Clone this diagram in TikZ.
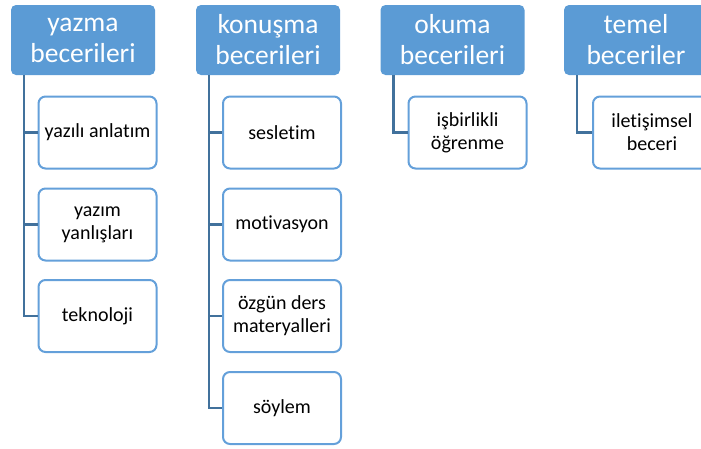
\documentclass[tikz,border=0pt]{standalone}
\usepackage{fontspec}
\setmainfont{Carlito}[Ligatures={NoCommon,NoContextual}]
\definecolor{hdrblue}{RGB}{91,155,213}
\definecolor{boxblue}{RGB}{100,160,218}
\definecolor{lineblue}{RGB}{65,113,156}
\tikzset{
  hdr/.style={rectangle, rounded corners=5pt, fill=hdrblue, draw=none, text=white,
    minimum width=144pt, minimum height=70pt, inner sep=0pt, align=center,
    font=\fontsize{27.5}{31}\selectfont},
  item/.style={rectangle, rounded corners=7pt, fill=white, draw=boxblue, line width=2pt,
    minimum width=118pt, minimum height=72pt, inner sep=0pt, align=center,
    font=\fontsize{20}{23}\selectfont},
  conn/.style={draw=lineblue, line width=2.6pt}
}
\begin{document}
\begin{tikzpicture}[x=1pt,y=-1pt]
\useasboundingbox (0,0) rectangle (701,448);
\clip (0,0) rectangle (701,448);
% headers
\node[hdr] (h1) at (83,40) {yazma\\becerileri};
\node[hdr] (h2) at (268,40) {konuşma\\becerileri};
\node[hdr] (h3) at (452.5,40) {okuma\\becerileri};
\node[hdr] (h4) at (636,40) {temel\\beceriler};
% anchor points for trunks
\coordinate (t1) at ([xshift=13pt]h1.south west);
\coordinate (t2) at ([xshift=13pt]h2.south west);
\coordinate (t3) at ([xshift=13pt]h3.south west);
\coordinate (t4) at ([xshift=13pt]h4.south west);
% children
\node[item] (a1) at (97.5,132.5) {yazılı anlatım};
\node[item] (a2) at (97.5,224.5) {yazım\\yanlışları};
\node[item] (a3) at (97.5,316) {teknoloji};
\node[item] (b1) at (282,132.5) {sesletim};
\node[item] (b2) at (282,224.5) {motivasyon};
\node[item] (b3) at (282,316) {özgün ders\\materyalleri};
\node[item] (b4) at (282,408) {söylem};
\node[item] (c1) at (467.5,132.5) {işbirlikli\\öğrenme};
\node[item] (d1) at (652,132.5) {iletişimsel\\beceri};
% connectors
\draw[conn] (t1) |- (a1.west);
\draw[conn] (t1) |- (a2.west);
\draw[conn] (t1) |- (a3.west);
\draw[conn] (t2) |- (b1.west);
\draw[conn] (t2) |- (b2.west);
\draw[conn] (t2) |- (b3.west);
\draw[conn] (t2) |- (b4.west);
\draw[conn] (t3) |- (c1.west);
\draw[conn] (t4) |- (d1.west);
\end{tikzpicture}
\end{document}
